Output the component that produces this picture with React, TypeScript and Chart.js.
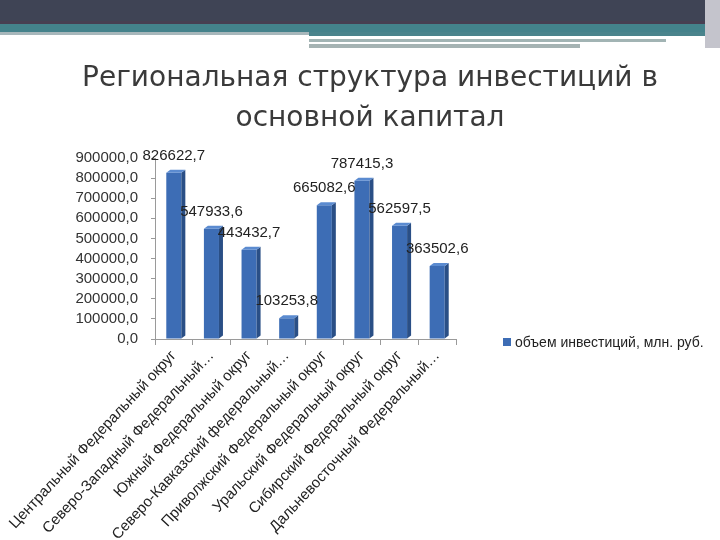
import React, { useEffect, useRef } from "react";
import { Chart, registerables } from "chart.js";

Chart.register(...registerables);

const categories = [
  "Центральный Федеральный округ",
  "Северо-Западный Федеральный…",
  "Южный Федеральный округ",
  "Северо-Кавказский федеральный…",
  "Приволжский Федеральный округ",
  "Уральский Федеральный округ",
  "Сибирский Федеральный округ",
  "Дальневосточный Федеральный…",
];
const investment = [826622.7, 547933.6, 443432.7, 103253.8, 665082.6, 787415.3, 562597.5, 363502.6];
const seriesName = "объем инвестиций, млн. руб.";
const titleLines = ["Региональная структура инвестиций в", "основной капитал"];
const yMax = 900000;
const yStep = 100000;

const fmt = (v: number) => v.toFixed(1).replace(".", ",");
const FONT = "'Liberation Sans', Arial, sans-serif";
const TITLE_FONT = "'DejaVu Sans', sans-serif";

const bar3d = {
  id: "bar3d",
  afterDatasetsDraw(chart: any) {
    const ctx = chart.ctx;
    const meta = chart.getDatasetMeta(0);
    const dx = 4;
    const dy = 3;
    ctx.save();
    meta.data.forEach((el: any, i: number) => {
      const half = el.width / 2;
      const l = el.x - half;
      const r = el.x + half;
      const t = el.y;
      const b = el.base;
      ctx.fillStyle = "#2a4f86";
      ctx.beginPath();
      ctx.moveTo(r, t);
      ctx.lineTo(r + dx, t - dy);
      ctx.lineTo(r + dx, b - dy);
      ctx.lineTo(r, b);
      ctx.closePath();
      ctx.fill();
      ctx.fillStyle = "#5b8bd0";
      ctx.beginPath();
      ctx.moveTo(l, t);
      ctx.lineTo(l + dx, t - dy);
      ctx.lineTo(r + dx, t - dy);
      ctx.lineTo(r, t);
      ctx.closePath();
      ctx.fill();
      ctx.fillStyle = "#222";
      ctx.font = `15px ${FONT}`;
      ctx.textAlign = "center";
      ctx.textBaseline = "middle";
      ctx.fillText(fmt(investment[i]), el.x, t - 17);
    });
    ctx.restore();
  },
};

function ChartCanvas() {
  const ref = useRef<HTMLCanvasElement>(null);
  useEffect(() => {
    if (!ref.current) return;
    const chart = new Chart(ref.current, {
      type: "bar",
      data: {
        labels: categories,
        datasets: [
          {
            label: seriesName,
            data: investment,
            backgroundColor: "#3d6db5",
            borderWidth: 0,
            categoryPercentage: 0.8,
            barPercentage: 0.5,
          },
        ],
      },
      options: {
        animation: false,
        responsive: false,
        maintainAspectRatio: false,
        layout: { padding: { top: 158, right: 264, bottom: 0, left: 0 } },
        plugins: {
          legend: { display: false },
          tooltip: { enabled: false },
          title: { display: false },
        },
        scales: {
          x: {
            grid: {
              display: true,
              drawOnChartArea: false,
              offset: true,
              tickLength: 6,
              color: "#9a9a9a",
            },
            border: { color: "#9a9a9a" },
            ticks: {
              autoSkip: false,
              minRotation: 47,
              maxRotation: 47,
              padding: 2,
              color: "#222",
              font: { family: FONT, size: 15 },
            },
            afterFit(scale: any) {
              scale.height = 201;
              scale.paddingLeft = 0;
              scale.paddingRight = 0;
            },
          },
          y: {
            min: 0,
            max: yMax,
            grid: {
              display: true,
              drawOnChartArea: false,
              tickLength: 4,
              color: "#9a9a9a",
            },
            border: { color: "#9a9a9a" },
            ticks: {
              autoSkip: false,
              stepSize: yStep,
              padding: 13,
              color: "#333",
              font: { family: FONT, size: 15 },
              callback: (v: any) => fmt(Number(v)),
            },
            afterFit(scale: any) {
              scale.width = 155;
            },
          },
        },
      },
      plugins: [bar3d],
    });
    return () => chart.destroy();
  }, []);
  return <canvas ref={ref} width={720} height={540} style={{ position: "absolute", left: 0, top: 0 }} />;
}

export default function App() {
  return (
    <div style={{ position: "absolute", left: 0, top: 0, width: 720, height: 540, background: "#fff", overflow: "hidden" }}>
      <div style={{ position: "absolute", left: 0, top: 0, width: 720, height: 21, background: "#3f4455" }} />
      <div style={{ position: "absolute", left: 0, top: 21, width: 720, height: 3, background: "#473f52" }} />
      <div style={{ position: "absolute", left: 0, top: 24, width: 720, height: 8, background: "#44828b" }} />
      <div style={{ position: "absolute", left: 0, top: 32, width: 309, height: 3, background: "#a7b7bb" }} />
      <div style={{ position: "absolute", left: 309, top: 32, width: 400, height: 4, background: "#4a848c" }} />
      <div style={{ position: "absolute", left: 309, top: 39, width: 357, height: 3, background: "#a2b4b4" }} />
      <div style={{ position: "absolute", left: 309, top: 44, width: 271, height: 4, background: "#a5b3b3" }} />
      <div style={{ position: "absolute", left: 705, top: 0, width: 15, height: 48, background: "#c4c4cc" }} />
      <ChartCanvas />
      <div
        style={{
          position: "absolute",
          left: 0,
          top: 57,
          width: 740,
          textAlign: "center",
          fontFamily: TITLE_FONT,
          fontSize: 28,
          lineHeight: "40px",
          color: "#3a3a3a",
        }}
      >
        {titleLines.map((t, i) => (
          <div key={i}>{t}</div>
        ))}
      </div>
      <div
        style={{
          position: "absolute",
          left: 503,
          top: 334,
          fontFamily: FONT,
          fontSize: 14,
          color: "#222",
          display: "flex",
          alignItems: "center",
          whiteSpace: "nowrap",
        }}
      >
        <span style={{ display: "inline-block", width: 8, height: 8, background: "#3d6db5", marginRight: 4 }} />
        {seriesName}
      </div>
    </div>
  );
}
